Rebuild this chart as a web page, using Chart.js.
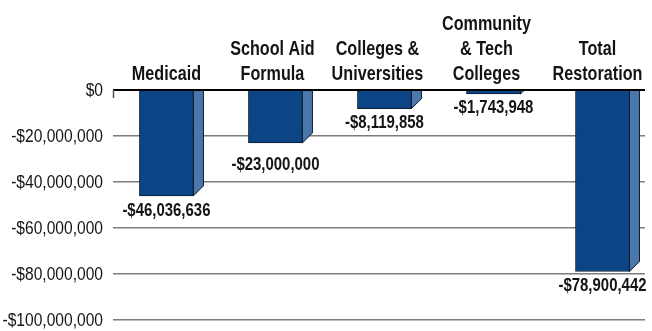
<!DOCTYPE html>
<html>
<head>
<meta charset="utf-8">
<script src="https://cdn.jsdelivr.net/npm/chart.js@4/dist/chart.umd.min.js"></script>
<style>
  html, body { margin: 0; padding: 0; background: #ffffff; }
  #wrap { width: 652px; height: 331px; }
</style>
</head>
<body>
<div id="wrap"><canvas id="chart"></canvas></div>
<script>
// Budget restoration by program area
const categories = [
  ['Medicaid'],
  ['School Aid', 'Formula'],
  ['Colleges &', 'Universities'],
  ['Community', '& Tech', 'Colleges'],
  ['Total', 'Restoration']
];
const restoration = [-46036636, -23000000, -8119858, -1743948, -78900442];
const yTickValues = [0, -20000000, -40000000, -60000000, -80000000, -100000000];

const FONT = "'Liberation Sans', Arial, sans-serif";
const TEXT = '#141414';
const FRONT = '#0b4586';
const SIDE = '#4b77ab';
const EDGE = '#0a1a30';
const DEPTH = 10;
const LABEL_GAP = [15, 22, 14, 14, 15];   // value label distance below each bar
const HEAD_SHIFT = [0, -3, -7, -7, -5];   // category heading nudge (perspective)

function money(v) {
  if (v === 0) return '$0';
  const s = Math.abs(v).toLocaleString('en-US');
  return (v < 0 ? '-$' : '$') + s;
}

// text squeezed horizontally for a condensed look
function narrowText(ctx, text, x, y, align, squeeze) {
  ctx.save();
  ctx.translate(x, y);
  ctx.scale(squeeze, 1);
  ctx.textAlign = align;
  ctx.fillText(text, 0, 0);
  ctx.restore();
}

// Side faces, zero line, axis text and value labels
const depthBars = {
  id: 'depthBars',
  afterDatasetsDraw(chart) {
    const { ctx, chartArea, scales } = chart;
    const y0 = scales.y.getPixelForValue(0);
    const meta = chart.getDatasetMeta(0);

    ctx.save();
    ctx.beginPath();
    ctx.rect(chartArea.left, y0, chartArea.right - chartArea.left + 20, chartArea.bottom - y0 + 20);
    ctx.clip();
    meta.data.forEach((bar) => {
      const xr = bar.x + bar.width / 2;
      const yb = bar.y;
      ctx.beginPath();
      ctx.moveTo(xr, y0);
      ctx.lineTo(xr + DEPTH, y0);
      ctx.lineTo(xr + DEPTH, yb - DEPTH);
      ctx.lineTo(xr, yb);
      ctx.closePath();
      ctx.fillStyle = SIDE;
      ctx.fill();
      ctx.lineWidth = 1;
      ctx.strokeStyle = EDGE;
      ctx.stroke();
    });
    ctx.restore();

    // zero line
    ctx.save();
    ctx.strokeStyle = '#000000';
    ctx.lineWidth = 2;
    ctx.beginPath();
    ctx.moveTo(chartArea.left, y0);
    ctx.lineTo(chartArea.right, y0);
    ctx.stroke();
    ctx.lineWidth = 1.5;
    ctx.strokeStyle = '#555555';
    ctx.beginPath();
    ctx.moveTo(chartArea.left + 0.5, y0);
    ctx.lineTo(chartArea.left + 0.5, y0 + 8);
    ctx.stroke();
    ctx.restore();

    ctx.save();
    ctx.fillStyle = TEXT;

    // y tick labels
    ctx.font = '19px ' + FONT;
    ctx.textBaseline = 'middle';
    scales.y.ticks.forEach((t) => {
      narrowText(ctx, money(t.value), chartArea.left - 10, scales.y.getPixelForValue(t.value) + 1, 'right', 0.82);
    });

    // category labels above the zero line
    ctx.font = 'bold 21px ' + FONT;
    ctx.textBaseline = 'alphabetic';
    categories.forEach((lines, i) => {
      const x = scales.x.getPixelForValue(i) + HEAD_SHIFT[i];
      const n = lines.length;
      lines.forEach((line, k) => {
        narrowText(ctx, line, x, chartArea.top - 10 - (n - 1 - k) * 25, 'center', 0.77);
      });
    });

    // value labels
    ctx.font = 'bold 18px ' + FONT;
    ctx.textBaseline = 'middle';
    meta.data.forEach((bar, i) => {
      narrowText(ctx, money(restoration[i]), bar.x, bar.y + LABEL_GAP[i], 'center', 0.83);
    });
    ctx.restore();
  }
};

new Chart(document.getElementById('chart'), {
  type: 'bar',
  data: {
    datasets: [{
      data: restoration.map((v, i) => ({ x: i, y: v })),
      backgroundColor: FRONT,
      borderColor: EDGE,
      borderWidth: 1,
      borderSkipped: 'start',
      barThickness: 54
    }]
  },
  options: {
    responsive: true,
    maintainAspectRatio: false,
    animation: false,
    layout: { padding: { top: 0, left: 0, right: 7, bottom: 11 } },
    plugins: { legend: { display: false }, tooltip: { enabled: false } },
    scales: {
      x: {
        type: 'linear',
        position: 'top',
        offset: false,
        min: -0.49,
        max: 4.39,
        afterBuildTicks(scale) {
          scale.ticks = categories.map((c, i) => ({ value: i }));
        },
        afterFit(scale) { scale.height = 90; },
        grid: { display: false },
        border: { display: false },
        ticks: { display: false }
      },
      y: {
        min: -100000000,
        max: 0,
        afterBuildTicks(scale) {
          scale.ticks = yTickValues.map((v) => ({ value: v }));
        },
        afterFit(scale) { scale.width = 113; },
        border: { display: false },
        grid: {
          drawTicks: false,
          color: (c) => (c.tick && c.tick.value === 0 ? 'rgba(0,0,0,0)' : '#7d7d7d'),
          lineWidth: 1.5
        },
        ticks: { display: false }
      }
    }
  },
  plugins: [depthBars]
});
</script>
</body>
</html>
